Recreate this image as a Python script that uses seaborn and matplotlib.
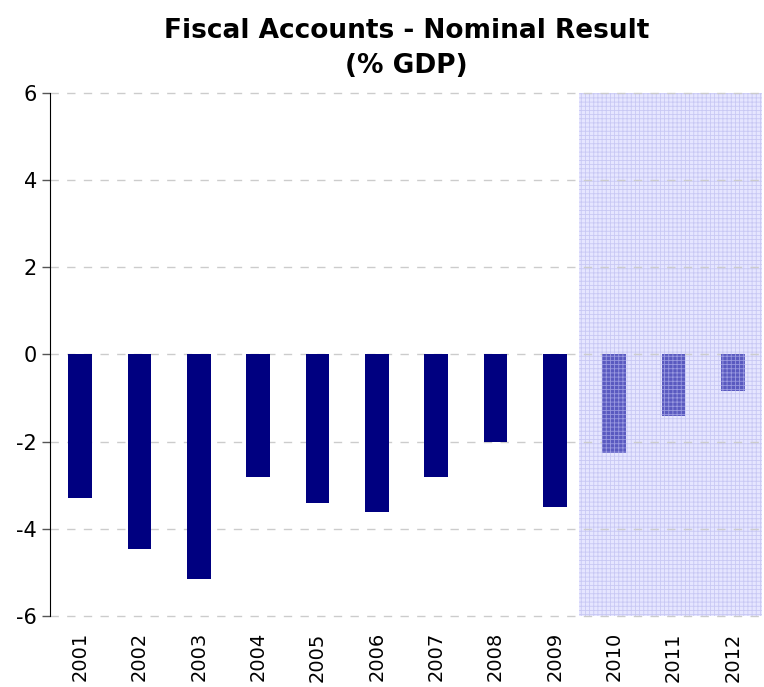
import pandas as pd
import matplotlib.pyplot as plt
import seaborn as sns
import numpy as np

years = ['2001', '2002', '2003', '2004', '2005', '2006', '2007', '2008', '2009', '2010', '2011', '2012']
result = [-3.3, -4.45, -5.15, -2.8, -3.4, -3.6, -2.8, -2.0, -3.5, -2.25, -1.42, -0.83]
forecast = [False] * 9 + [True] * 3

df = pd.DataFrame({'year': years, 'result': result, 'forecast': forecast})

sns.set_style('white')
plt.rcParams['font.family'] = ['Tahoma', 'DejaVu Sans']
plt.rcParams['hatch.linewidth'] = 0.6
plt.rcParams['axes.unicode_minus'] = False
plt.rcParams['text.color'] = 'black'
plt.rcParams['xtick.color'] = 'black'
plt.rcParams['ytick.color'] = 'black'

fig, ax = plt.subplots(figsize=(7.64, 6.87), dpi=100)

# shaded forecast area
ax.axvspan(8.4, 11.5, facecolor='#e6e6ff', edgecolor='#c8c8f4', hatch='++++', lw=0, zorder=0)

sns.barplot(x='year', y='result', data=df, color='#000080', saturation=1, width=0.4, ax=ax, zorder=3)
for bar, fc in zip(ax.containers[0], df['forecast']):
    bar.set_linewidth(0)
    if fc:
        bar.set_facecolor('#5a5ac0')
        bar.set_edgecolor('#9898e0')
        bar.set_hatch('++++')

ax.set_xlim(-0.5, 11.5)
ax.set_ylim(-6, 6)
ax.set_yticks(np.arange(-6, 7, 2))
ax.yaxis.grid(True, linestyle=(0, (6, 6)), color='#cccccc', lw=1, clip_on=False)
ax.set_axisbelow(True)
for s in ['top', 'right', 'bottom']:
    ax.spines[s].set_visible(False)
ax.spines['left'].set_color('black')
ax.tick_params(axis='y', left=True, length=6, width=1, color='#555555', labelsize=15, labelcolor='black')
ax.tick_params(axis='x', bottom=False, labelsize=14, rotation=90, labelcolor='black', pad=8)
ax.set_xlabel('')
ax.set_ylabel('')
ax.set_title('Fiscal Accounts - Nominal Result\n(% GDP)', fontsize=19, fontweight='bold',
             pad=14, linespacing=1.45, color='black')

plt.subplots_adjust(left=0.066, right=0.998, top=0.865, bottom=0.103)
plt.savefig('out.png', dpi=100)
